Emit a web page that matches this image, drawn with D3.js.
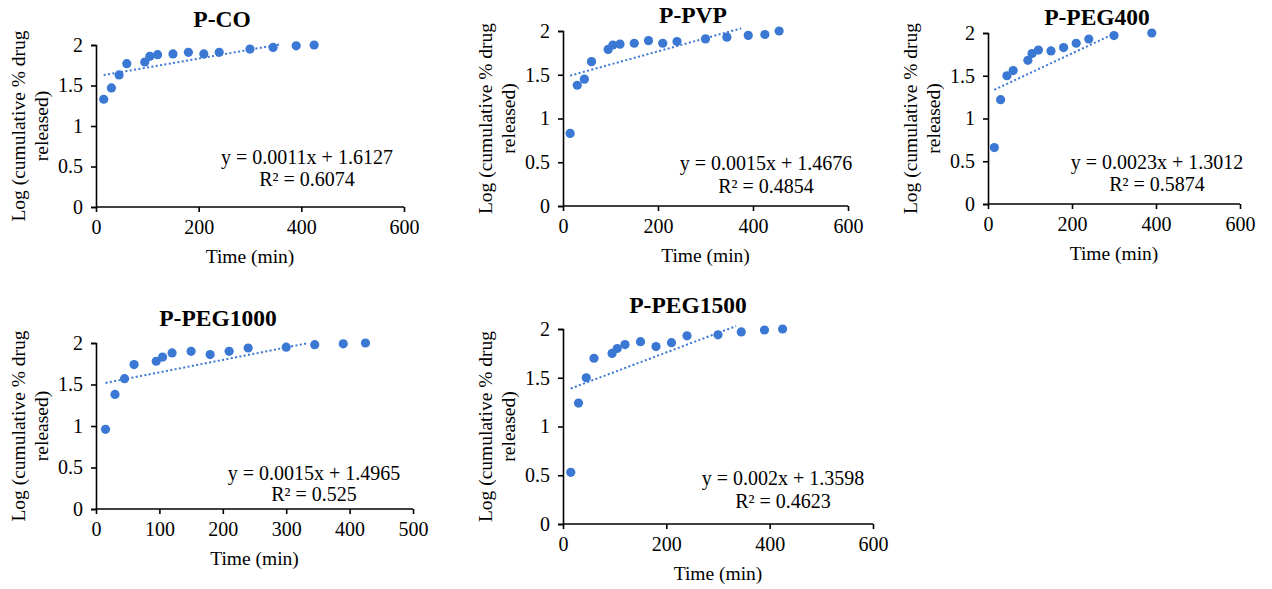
<!DOCTYPE html>
<html>
<head>
<meta charset="utf-8">
<script src="https://cdn.jsdelivr.net/npm/d3@7"></script>
<style>
  body { margin: 0; background: #fff; }
  svg { display: block; }
</style>
</head>
<body>
<svg class="releaseSVG" width="1272" height="589"></svg>
<script>
// sampling times (min) and log cumulative % drug released
const timesCO = [15, 30, 45, 60, 95, 105, 120, 150, 180, 210, 240, 300, 345, 390, 425];
const logCO = [1.33, 1.47, 1.63, 1.77, 1.79, 1.86, 1.88, 1.89, 1.91, 1.89, 1.91, 1.95, 1.97, 1.99, 2.0];

const timesPVP = [15, 30, 45, 60, 95, 105, 120, 150, 180, 210, 240, 300, 345, 390, 425, 455];
const logPVP = [0.83, 1.38, 1.45, 1.65, 1.79, 1.84, 1.85, 1.86, 1.89, 1.86, 1.88, 1.91, 1.93, 1.95, 1.96, 2.0];

const timesPEG400 = [15, 30, 45, 60, 95, 105, 120, 150, 180, 210, 240, 300, 390];
const logPEG400 = [0.66, 1.22, 1.50, 1.56, 1.68, 1.76, 1.80, 1.79, 1.83, 1.88, 1.93, 1.97, 2.0];

const timesPEG1000 = [15, 30, 45, 60, 95, 105, 120, 150, 180, 210, 240, 300, 345, 390, 425];
const logPEG1000 = [0.96, 1.38, 1.57, 1.74, 1.78, 1.83, 1.88, 1.90, 1.86, 1.90, 1.94, 1.95, 1.98, 1.99, 2.0];

const timesPEG1500 = [15, 30, 45, 60, 95, 105, 120, 150, 180, 210, 240, 300, 345, 390, 425];
const logPEG1500 = [0.53, 1.24, 1.50, 1.70, 1.75, 1.80, 1.84, 1.87, 1.82, 1.86, 1.93, 1.94, 1.97, 1.99, 2.0];

// linear trendlines: [slope, intercept], R² text, x range the dotted line spans
const fitSlopes = [0.0011, 0.0015, 0.0023, 0.0015, 0.002];
const fitIntercepts = [1.6127, 1.4676, 1.3012, 1.4965, 1.3598];
const fitEquations = ['y = 0.0011x + 1.6127', 'y = 0.0015x + 1.4676', 'y = 0.0023x + 1.3012', 'y = 0.0015x + 1.4965', 'y = 0.002x + 1.3598'];
const fitR2 = ['R² = 0.6074', 'R² = 0.4854', 'R² = 0.5874', 'R² = 0.525', 'R² = 0.4623'];
const fitRanges = [[15, 360], [15, 375], [15, 300], [15, 335], [15, 335]];

const titles = ['P-CO', 'P-PVP', 'P-PEG400', 'P-PEG1000', 'P-PEG1500'];
const xMaxes = [600, 600, 600, 500, 600];
const yTicks = [0, 0.5, 1, 1.5, 2];

const blue = '#3a78d4';
const serif = "'Liberation Serif', 'Times New Roman', serif";

// layout of each small chart on the page
const panels = [
  {x0: 96, x1: 404, y0: 45, y1: 207, title: [222, 19], eq: [307, 157], gap: 22},
  {x0: 563, x1: 848, y0: 31, y1: 206, title: [693, 15], eq: [766, 163], gap: 23},
  {x0: 988, x1: 1240, y0: 33, y1: 204, title: [1097, 17], eq: [1157, 162], gap: 22},
  {x0: 96, x1: 413, y0: 343, y1: 509, title: [218, 318], eq: [314, 473], gap: 21},
  {x0: 563, x1: 873, y0: 329, y1: 524, title: [688, 305], eq: [783, 478], gap: 23}
];

const series = [
  [timesCO, logCO],
  [timesPVP, logPVP],
  [timesPEG400, logPEG400],
  [timesPEG1000, logPEG1000],
  [timesPEG1500, logPEG1500]
];

const svg = d3.select('svg.releaseSVG');

panels.forEach((p, i) => {
  const g = svg.append('g').attr('class', 'panel');

  const x = d3.scaleLinear().domain([0, xMaxes[i]]).range([p.x0, p.x1]);
  const y = d3.scaleLinear().domain([0, 2]).range([p.y1, p.y0]);

  const xAxis = d3.axisBottom(x)
    .tickValues(d3.range(0, xMaxes[i] + 1, xMaxes[i] === 500 ? 100 : 200))
    .tickSizeOuter(0).tickSize(5).tickPadding(8);
  const yAxis = d3.axisLeft(y)
    .tickValues(yTicks)
    .tickFormat(d3.format('~g'))
    .tickSizeOuter(0).tickSize(5).tickPadding(8);

  const gx = g.append('g').attr('transform', `translate(0,${p.y1})`).call(xAxis);
  const gy = g.append('g').attr('transform', `translate(${p.x0},0)`).call(yAxis);

  [gx, gy].forEach(a => {
    a.selectAll('path, line').attr('stroke', '#000').attr('stroke-width', 1.6);
    a.selectAll('text')
      .attr('fill', '#000')
      .style('font-family', serif)
      .style('font-size', '20px');
  });
  gx.select('.domain').attr('d', `M${p.x0},0H${p.x1}`);

  // dotted trendline
  const fit = fitRanges[i].map(t => [t, fitSlopes[i] * t + fitIntercepts[i]]);
  g.append('path')
    .attr('d', d3.line().x(d => x(d[0])).y(d => y(d[1]))(fit))
    .attr('fill', 'none')
    .attr('stroke', blue)
    .attr('stroke-width', 2)
    .attr('stroke-dasharray', '2,2.4');

  // points
  const [ts, vs] = series[i];
  g.selectAll('circle')
    .data(ts.map((t, k) => [t, vs[k]]))
    .enter()
    .append('circle')
    .attr('cx', d => x(d[0]))
    .attr('cy', d => y(d[1]))
    .attr('r', 4.6)
    .attr('fill', blue);

  // title
  g.append('text')
    .text(titles[i])
    .attr('x', p.title[0])
    .attr('y', p.title[1])
    .attr('dy', '0.35em')
    .attr('text-anchor', 'middle')
    .style('font-family', serif)
    .style('font-weight', 'bold')
    .style('font-size', '23.5px');

  // axis titles
  g.append('text')
    .text('Time (min)')
    .attr('x', (p.x0 + p.x1) / 2)
    .attr('y', p.y1 + 49)
    .attr('dy', '0.35em')
    .attr('text-anchor', 'middle')
    .style('font-family', serif)
    .style('font-size', '19.5px');

  const yc = (p.y0 + p.y1) / 2;
  ['Log (cumulative % drug', 'released)'].forEach((line, k) => {
    g.append('text')
      .text(line)
      .attr('transform', `translate(${p.x0 - 78 + k * 23},${yc}) rotate(-90)`)
      .attr('dy', '0.35em')
      .attr('text-anchor', 'middle')
      .style('font-family', serif)
      .style('font-size', '19.5px');
  });

  // trendline equation
  [fitEquations[i], fitR2[i]].forEach((line, k) => {
    g.append('text')
      .text(line)
      .attr('x', p.eq[0])
      .attr('y', p.eq[1] + k * p.gap)
      .attr('dy', '0.35em')
      .attr('text-anchor', 'middle')
      .style('font-family', serif)
      .style('font-size', '20px');
  });
});
</script>
</body>
</html>
